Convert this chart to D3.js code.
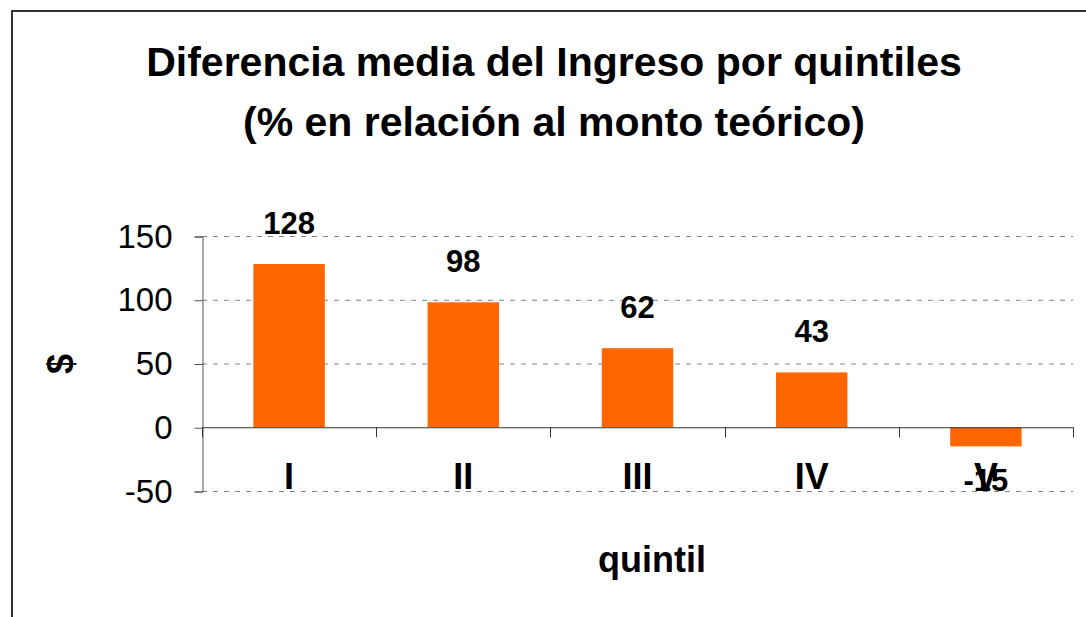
<!DOCTYPE html>
<html>
<head>
<meta charset="utf-8">
<script src="https://cdn.jsdelivr.net/npm/d3@7"></script>
<style>
  body { margin: 0; background: #fff; }
  svg { display: block; font-family: 'Liberation Sans', Arial, sans-serif; }
</style>
</head>
<body>
<div id="chart"></div>
<script>
const categories = ['I', 'II', 'III', 'IV', 'V']
const values = [128, 98, 62, 43, -15]
const yTicks = [-50, 0, 50, 100, 150]
const titleLines = ['Diferencia media del Ingreso por quintiles', '(% en relación al monto teórico)']

const width = 1086
const height = 617
const plot = { left: 202, right: 1073, top: 236, bottom: 491 }

const svg = d3.select('#chart').append('svg')
  .attr('width', width)
  .attr('height', height)

// chart frame (runs off the right and bottom edges)
svg.append('path')
  .attr('d', `M12,${height + 5}V11H${width + 5}`)
  .attr('fill', 'none')
  .attr('stroke', '#333')
  .attr('stroke-width', 2)

const x = d3.scaleBand()
  .domain(categories)
  .range([plot.left, plot.right])
  .paddingInner(0.59)
  .paddingOuter(0.295)

const y = d3.scaleLinear()
  .domain([-50, 150])
  .range([plot.bottom, plot.top])

// gridlines
svg.append('g')
  .selectAll('line')
  .data(yTicks.filter(d => d !== 0))
  .join('line')
  .attr('x1', plot.left)
  .attr('x2', plot.right)
  .attr('y1', d => y(d) + 0.5)
  .attr('y2', d => y(d) + 0.5)
  .attr('stroke', '#808080')
  .attr('stroke-width', 1)
  .attr('stroke-dasharray', '5,6')

// y axis
svg.append('g')
  .attr('transform', `translate(${plot.left + 0.5},0.5)`)
  .call(d3.axisLeft(y).tickValues(yTicks).tickSize(8).tickPadding(22).tickFormat(d => String(d)))
  .call(g => g.selectAll('line, path').attr('stroke', '#555'))
  .call(g => g.selectAll('text')
    .attr('fill', '#000')
    .attr('font-size', 33)
    .attr('font-family', "'Liberation Sans', Arial, sans-serif"))

// bars
svg.append('g')
  .selectAll('rect')
  .data(values)
  .join('rect')
  .attr('x', (d, i) => x(categories[i]))
  .attr('width', x.bandwidth())
  .attr('y', d => y(Math.max(0, d)))
  .attr('height', d => Math.abs(y(d) - y(0)))
  .attr('fill', '#FF6600')

// x axis line with ticks on category boundaries
const boundaries = categories.map(c => x(c) - x.step() * x.paddingInner() / 2)
boundaries.push(plot.right)
const xAxisG = svg.append('g')
xAxisG.append('line')
  .attr('x1', plot.left)
  .attr('x2', plot.right)
  .attr('y1', y(0) + 0.5)
  .attr('y2', y(0) + 0.5)
  .attr('stroke', '#333')
xAxisG.selectAll('.tick')
  .data(boundaries)
  .join('line')
  .attr('class', 'tick')
  .attr('x1', d => Math.round(d) + 0.5)
  .attr('x2', d => Math.round(d) + 0.5)
  .attr('y1', y(0))
  .attr('y2', y(0) + 10)
  .attr('stroke', '#333')

// category labels
svg.append('g')
  .selectAll('text')
  .data(categories)
  .join('text')
  .attr('x', d => x(d) + x.bandwidth() / 2)
  .attr('y', plot.bottom - 2)
  .attr('text-anchor', 'middle')
  .attr('font-size', 36)
  .attr('font-weight', 'bold')
  .text(d => d)

// value labels
svg.append('g')
  .selectAll('text')
  .data(values)
  .join('text')
  .attr('x', (d, i) => x(categories[i]) + x.bandwidth() / 2)
  .attr('y', d => d >= 0 ? y(d) - 30 : y(d) + 45)
  .attr('text-anchor', 'middle')
  .attr('font-size', 31)
  .attr('font-weight', 'bold')
  .text(d => d)

// title
svg.append('text')
  .attr('text-anchor', 'middle')
  .attr('font-size', 41)
  .attr('font-weight', 'bold')
  .selectAll('tspan')
  .data(titleLines)
  .join('tspan')
  .attr('x', 554)
  .attr('y', (d, i) => 76 + i * 60)
  .text(d => d)

// axis titles
svg.append('text')
  .attr('transform', 'translate(73,364) rotate(-90)')
  .attr('text-anchor', 'middle')
  .attr('font-size', 36)
  .attr('font-weight', 'bold')
  .text('$')

svg.append('text')
  .attr('x', 652)
  .attr('y', 572)
  .attr('text-anchor', 'middle')
  .attr('font-size', 36)
  .attr('font-weight', 'bold')
  .text('quintil')
</script>
</body>
</html>
